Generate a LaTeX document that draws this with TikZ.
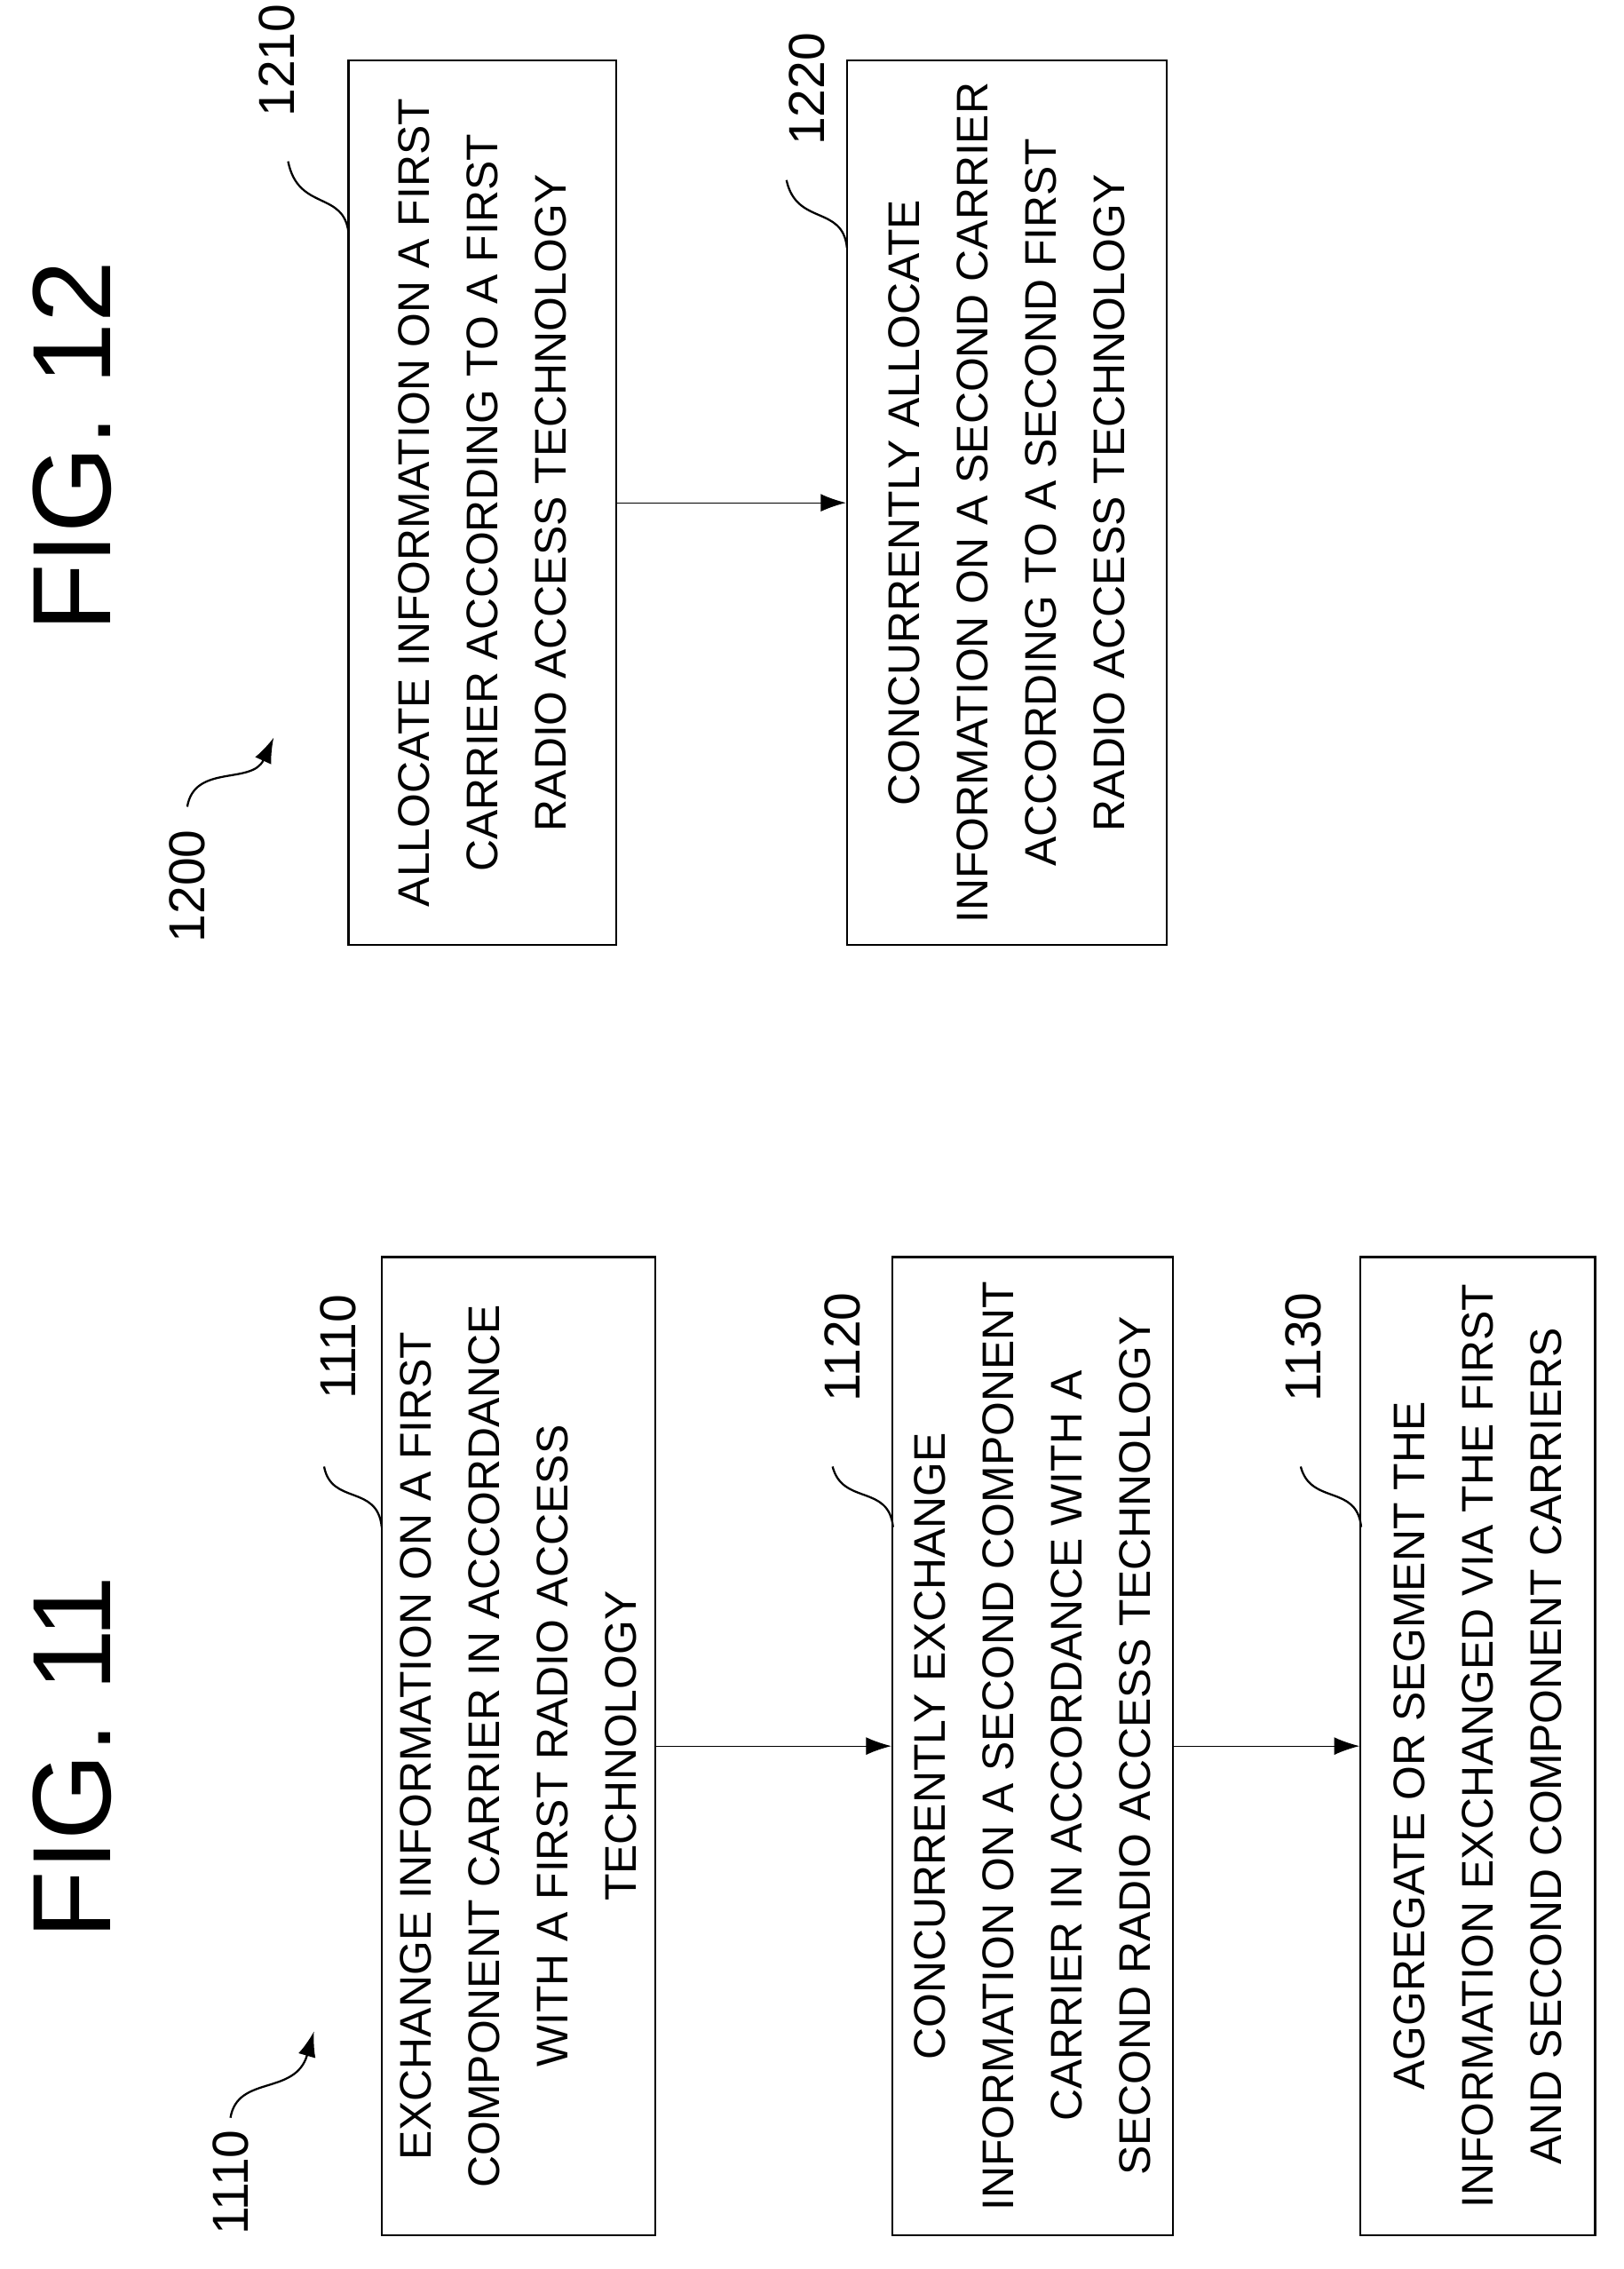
\documentclass[tikz,border=0pt]{standalone}
\usepackage{fontspec}
\setmainfont{Liberation Sans}
\usetikzlibrary{arrows.meta}
\begin{document}
\begin{tikzpicture}[x=0.02cm,y=-0.02cm,
  stepbox/.style={draw,thick,rotate=90,align=center,inner sep=0pt,font=\fontsize{17.5}{27}\selectfont},
  ref/.style={rotate=90,font=\fontsize{20}{24}\selectfont},
  fig/.style={rotate=90,font=\fontsize{44}{50}\selectfont},
  link/.style={-{Latex[length=10pt,width=7pt]}},
  squig/.style={thick}]
\useasboundingbox (0,0) rectangle (1127,1575);
% FIG. 11
\node[fig] (f11) at (50,1220) {FIG. 11};
\node[ref] (r11) at (160,1515) {1110};
\draw[squig,link] (160,1470) .. controls (165,1440) and (205,1455) .. (218,1410);
\node[stepbox,minimum width=13.58cm,minimum height=3.8cm] (b1110) at (360,1212)
  {EXCHANGE INFORMATION ON A FIRST\\COMPONENT CARRIER IN ACCORDANCE\\WITH A FIRST RADIO ACCESS\\TECHNOLOGY};
\node[stepbox,minimum width=13.58cm,minimum height=3.9cm] (b1120) at (717,1212)
  {CONCURRENTLY EXCHANGE\\INFORMATION ON A SECOND COMPONENT\\CARRIER IN ACCORDANCE WITH A\\SECOND RADIO ACCESS TECHNOLOGY};
\node[stepbox,minimum width=13.58cm,minimum height=3.26cm] (b1130) at (1026,1212)
  {AGGREGATE OR SEGMENT THE\\INFORMATION EXCHANGED VIA THE FIRST\\AND SECOND COMPONENT CARRIERS};
\draw[link] (b1110) -- (b1120);
\draw[link] (b1120) -- (b1130);
\node[ref] (r1110) at (235,935) {1110};
\draw[squig] (265,1060) .. controls (262,1030) and (230,1045) .. (225,1018);
\node[ref] (r1120) at (585,935) {1120};
\draw[squig] (620,1060) .. controls (617,1030) and (585,1045) .. (578,1018);
\node[ref] (r1130) at (905,935) {1130};
\draw[squig] (945,1060) .. controls (942,1030) and (910,1045) .. (903,1018);
% FIG. 12
\node[fig] (f12) at (50,310) {FIG. 12};
\node[ref] (r12) at (130,615) {1200};
\draw[squig,link] (130,560) .. controls (135,530) and (175,545) .. (190,512);
\node[stepbox,minimum width=12.28cm,minimum height=3.72cm] (b1210) at (335,349)
  {ALLOCATE INFORMATION ON A FIRST\\CARRIER ACCORDING TO A FIRST\\RADIO ACCESS TECHNOLOGY};
\node[stepbox,minimum width=12.28cm,minimum height=4.44cm] (b1220) at (699,349)
  {CONCURRENTLY ALLOCATE\\INFORMATION ON A SECOND CARRIER\\ACCORDING TO A SECOND FIRST\\RADIO ACCESS TECHNOLOGY};
\draw[link] (b1210) -- (b1220);
\node[ref] (r1210) at (192,42) {1210};
\draw[squig] (242,162) .. controls (239,132) and (207,147) .. (200,112);
\node[ref] (r1220) at (560,62) {1220};
\draw[squig] (588,172) .. controls (585,142) and (553,157) .. (546,125);
\end{tikzpicture}
\end{document}
